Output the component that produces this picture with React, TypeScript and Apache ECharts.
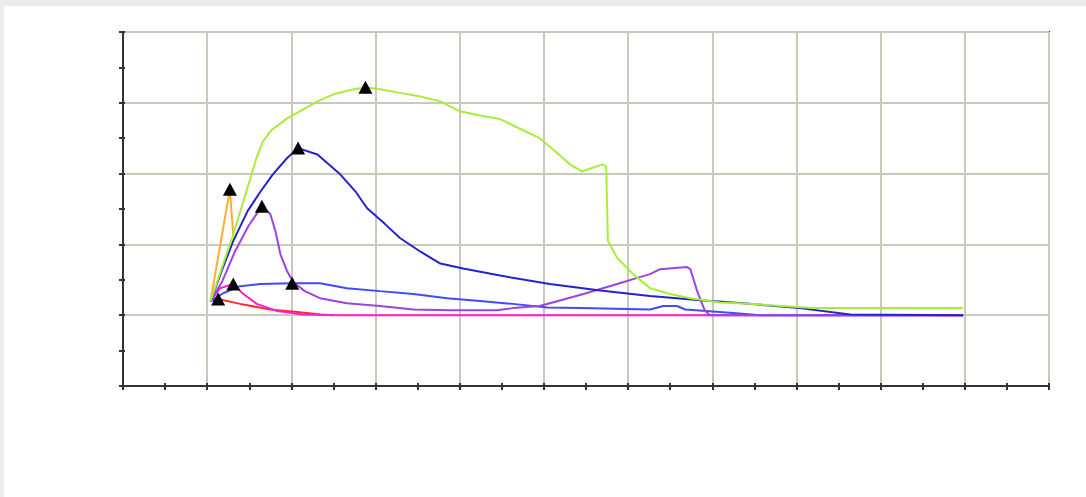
import React, { useEffect, useRef } from "react";
import * as echarts from "echarts";

// Series values [x, y]
const greenSeries: [number, number][] = [
  [0.04, 0.2], [0.18, 0.69], [0.31, 1.14], [0.43, 1.61], [0.51, 1.92], [0.58, 2.2],
  [0.66, 2.45], [0.76, 2.61], [0.95, 2.78], [1.1, 2.88], [1.31, 3.02], [1.5, 3.12],
  [1.7, 3.18], [1.88, 3.22], [2.05, 3.19], [2.29, 3.14], [2.53, 3.09], [2.77, 3.02],
  [3.0, 2.88], [3.24, 2.82], [3.48, 2.77], [3.72, 2.63], [3.95, 2.5], [4.13, 2.32],
  [4.31, 2.13], [4.45, 2.03], [4.57, 2.08], [4.7, 2.13], [4.74, 2.1], [4.76, 1.05],
  [4.87, 0.81], [5.06, 0.58], [5.26, 0.38], [5.5, 0.3], [5.74, 0.24], [6.09, 0.18],
  [6.45, 0.16], [7.2, 0.1], [8.98, 0.1],
];
const darkBlueSeries: [number, number][] = [
  [0.04, 0.2], [0.18, 0.65], [0.31, 1.05], [0.48, 1.47], [0.63, 1.74], [0.78, 1.99],
  [0.95, 2.22], [1.08, 2.36], [1.31, 2.27], [1.58, 1.99], [1.76, 1.75], [1.9, 1.51],
  [2.11, 1.29], [2.29, 1.09], [2.53, 0.9], [2.77, 0.73], [3.04, 0.66], [3.48, 0.56],
  [4.07, 0.44], [4.67, 0.35], [5.26, 0.27], [5.86, 0.21], [6.45, 0.16], [7.04, 0.1],
  [7.64, 0.01], [8.98, 0.0],
];
const mediumBlueSeries: [number, number][] = [
  [0.04, 0.2], [0.19, 0.31], [0.39, 0.41], [0.63, 0.44], [1.01, 0.45], [1.34, 0.45],
  [1.66, 0.38], [2.05, 0.34], [2.45, 0.3], [2.85, 0.24], [3.24, 0.2], [3.63, 0.16],
  [4.04, 0.11], [4.43, 0.1], [5.26, 0.08], [5.42, 0.13], [5.58, 0.13], [5.68, 0.08],
  [6.25, 0.03], [6.57, 0.0], [8.98, 0.0],
];
const purpleSeries: [number, number][] = [
  [0.04, 0.2], [0.18, 0.48], [0.33, 0.9], [0.49, 1.26], [0.65, 1.54], [0.75, 1.43],
  [0.81, 1.19], [0.87, 0.86], [0.95, 0.62], [1.02, 0.47], [1.16, 0.34], [1.34, 0.24],
  [1.66, 0.17], [2.05, 0.13], [2.45, 0.08], [2.89, 0.07], [3.44, 0.07], [3.63, 0.1],
  [3.95, 0.13], [4.47, 0.3], [4.87, 0.44], [5.06, 0.51], [5.26, 0.58], [5.38, 0.65],
  [5.7, 0.68], [5.74, 0.65], [5.82, 0.34], [5.91, 0.07], [5.97, 0.0], [8.98, 0.0],
];
const orangeSeries: [number, number][] = [
  [0.04, 0.2], [0.27, 1.78], [0.31, 1.12],
];
const magentaSeries: [number, number][] = [
  [0.04, 0.2], [0.15, 0.38], [0.31, 0.44], [0.43, 0.3], [0.59, 0.16], [0.83, 0.06],
  [1.14, 0.01], [1.58, 0.0], [8.98, 0.0],
];
const redSeries: [number, number][] = [
  [0.04, 0.2], [0.13, 0.23], [0.39, 0.16], [0.75, 0.08], [1.1, 0.04], [1.34, 0.01],
  [1.5, 0.0],
];

const xMin = -1;
const xMax = 10;
const yMin = -1;
const yMax = 4;

export default function App() {
  const ref = useRef<HTMLDivElement>(null);

  useEffect(() => {
    document.body.style.margin = "0";
    if (!ref.current) return;
    const chart = echarts.init(ref.current, undefined, { renderer: "svg" });

    const lineDefs = [
      { name: "Red", data: redSeries, color: "#ff2a2a" },
      { name: "Magenta", data: magentaSeries, color: "#ff22cc" },
      { name: "Medium blue", data: mediumBlueSeries, color: "#3d4cff" },
      { name: "Purple", data: purpleSeries, color: "#9944e0" },
      { name: "Dark blue", data: darkBlueSeries, color: "#2424c8" },
      { name: "Orange", data: orangeSeries, color: "#ffab3d" },
      { name: "Green", data: greenSeries, color: "#a6ee3a" },
    ];

    const axisLineStyle = { color: "#333", width: 2 };
    const tickStyle = { color: "#333", width: 2 };

    chart.setOption({
      animation: false,
      backgroundColor: "#ffffff",
      grid: {
        left: 119,
        top: 26,
        width: 926,
        height: 354,
        show: true,
        borderColor: "#333",
        borderWidth: 2,
        backgroundColor: "transparent",
      },
      xAxis: [
        {
          type: "value",
          min: xMin,
          max: xMax,
          interval: 1,
          position: "bottom",
          axisLine: { show: true, onZero: false, lineStyle: axisLineStyle },
          axisTick: { show: true, length: 4, lineStyle: tickStyle },
          minorTick: { show: true, splitNumber: 2, length: 4, lineStyle: tickStyle },
          axisLabel: { show: false },
          splitLine: { show: true, lineStyle: { color: "#c8c8bb", width: 2 } },
        },
        {
          type: "value",
          min: xMin,
          max: xMax,
          interval: 1,
          position: "bottom",
          offset: 0,
          axisLine: { show: false, onZero: false },
          axisTick: { show: true, inside: true, length: 3, lineStyle: tickStyle },
          minorTick: { show: true, splitNumber: 2, length: 3, lineStyle: tickStyle },
          axisLabel: { show: false },
          splitLine: { show: false },
        },
      ],
      yAxis: [
        {
          type: "value",
          min: yMin,
          max: yMax,
          interval: 1,
          position: "left",
          axisLine: { show: true, onZero: false, lineStyle: axisLineStyle },
          axisTick: { show: true, length: 4, lineStyle: tickStyle },
          minorTick: { show: true, splitNumber: 2, length: 4, lineStyle: tickStyle },
          axisLabel: { show: false },
          splitLine: { show: true, lineStyle: { color: "#c8c8bb", width: 2 } },
        },
        {
          type: "value",
          min: yMin,
          max: yMax,
          interval: 1,
          position: "left",
          offset: 0,
          axisLine: { show: false, onZero: false },
          axisTick: { show: true, inside: true, length: 2, lineStyle: tickStyle },
          minorTick: { show: true, splitNumber: 2, length: 2, lineStyle: tickStyle },
          axisLabel: { show: false },
          splitLine: { show: false },
        },
      ],
      series: lineDefs.map((d) => ({
        name: d.name,
        type: "line",
        data: d.data,
        showSymbol: false,
        symbol: "none",
        lineStyle: { color: d.color, width: 2 },
        itemStyle: { color: d.color },
        z: 3,
        markPoint: {
          symbol: "triangle",
          symbolSize: [14, 13],
          itemStyle: { color: "#000" },
          label: { show: false },
          data: [{ type: "max" }],
          z: 10,
        },
      })),
    });

    return () => chart.dispose();
  }, []);

  return (
    <div
      style={{
        position: "fixed",
        left: 0,
        top: 0,
        width: 1086,
        height: 497,
        background: "#ececec",
      }}
    >
      <div
        ref={ref}
        style={{
          position: "absolute",
          left: 4,
          top: 6,
          width: 1082,
          height: 491,
          background: "#ffffff",
          borderTopLeftRadius: 4,
        }}
      />
    </div>
  );
}
